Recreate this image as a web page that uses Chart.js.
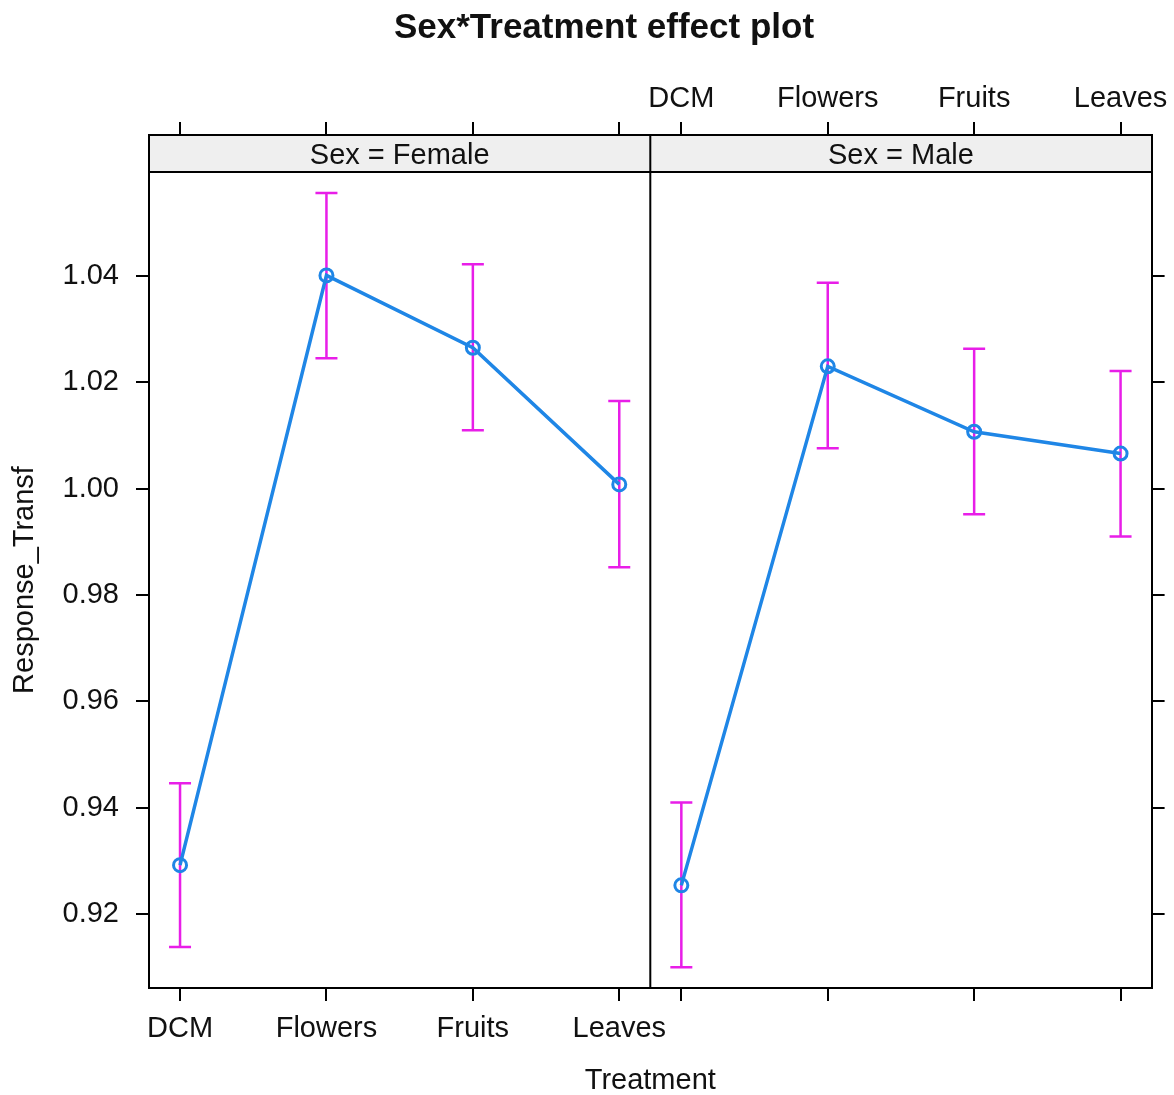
<!DOCTYPE html>
<html>
<head>
<meta charset="utf-8">
<title>Sex*Treatment effect plot</title>
<script src="https://cdn.jsdelivr.net/npm/chart.js@4.4.0/dist/chart.umd.min.js"></script>
<style>
  html, body { margin: 0; padding: 0; background: #fff; }
  #wrap { width: 1174px; height: 1095px; }
</style>
</head>
<body>
<div id="wrap"><canvas id="effectChart" width="1174" height="1095"></canvas></div>
<script>
// values
const treatments = ['DCM', 'Flowers', 'Fruits', 'Leaves'];
const sexes = ['Female', 'Male'];

const femaleFit   = [0.9292, 1.0401, 1.0265, 1.0008];
const femaleLower = [0.9138, 1.0245, 1.0110, 0.9852];
const femaleUpper = [0.9446, 1.0556, 1.0422, 1.0165];

const maleFit   = [0.9254, 1.0230, 1.0107, 1.0066];
const maleLower = [0.9100, 1.0076, 0.9952, 0.9910];
const maleUpper = [0.9410, 1.0387, 1.0263, 1.0221];

const yTicks = [0.92, 0.94, 0.96, 0.98, 1.00, 1.02, 1.04];

const FONT = '"Liberation Sans", Arial, sans-serif';
const LINE_COL = '#1f86e6';
const BAR_COL = '#e81ee8';
const TEXT_COL = '#111';

// each panel spans 3 category steps plus padding on both sides
const pad = 0.212;
const panelSpan = 3 + 2 * pad;
const stripPx = 37;

const panels = [
    { sex: sexes[0], fit: femaleFit, lower: femaleLower, upper: femaleUpper },
    { sex: sexes[1], fit: maleFit, lower: maleLower, upper: maleUpper }
];

const xPositions = [];
panels.forEach((p, k) => treatments.forEach((t, i) => xPositions.push(k * panelSpan + i)));

//-----------------------------------------
//  plugins: strips, error bars, titles
//-----------------------------------------
const stripBackground = {
    id: 'stripBackground',
    beforeDraw(chart) {
        const { ctx, chartArea: a } = chart;
        ctx.save();
        ctx.fillStyle = '#efefef';
        ctx.fillRect(a.left, a.top, a.right - a.left, stripPx);
        ctx.restore();
    }
};

const errorBars = {
    id: 'errorBars',
    beforeDatasetsDraw(chart) {
        const { ctx, scales: { x, y } } = chart;
        ctx.save();
        ctx.strokeStyle = BAR_COL;
        ctx.lineWidth = 2.5;
        panels.forEach((p, k) => p.fit.forEach((v, i) => {
            const px = x.getPixelForValue(k * panelSpan + i);
            const lo = y.getPixelForValue(p.lower[i]);
            const hi = y.getPixelForValue(p.upper[i]);
            ctx.beginPath();
            ctx.moveTo(px, lo); ctx.lineTo(px, hi);
            ctx.moveTo(px - 11, lo); ctx.lineTo(px + 11, lo);
            ctx.moveTo(px - 11, hi); ctx.lineTo(px + 11, hi);
            ctx.stroke();
        }));
        ctx.restore();
    }
};

const panelFrame = {
    id: 'panelFrame',
    afterDraw(chart) {
        const { ctx, chartArea: a, scales: { x } } = chart;
        const divider = x.getPixelForValue(panelSpan - pad);
        ctx.save();
        ctx.strokeStyle = '#000';
        ctx.lineWidth = 2;
        ctx.beginPath();
        ctx.moveTo(divider, a.top); ctx.lineTo(divider, a.bottom);
        ctx.moveTo(a.left, a.top + stripPx); ctx.lineTo(a.right, a.top + stripPx);
        ctx.stroke();

        // strip labels
        ctx.fillStyle = TEXT_COL;
        ctx.font = '29px ' + FONT;
        ctx.textAlign = 'center';
        ctx.textBaseline = 'middle';
        const edges = [a.left, divider, a.right];
        panels.forEach((p, k) => {
            ctx.fillText('Sex = ' + p.sex, (edges[k] + edges[k + 1]) / 2, a.top + stripPx / 2 + 2);
        });

        // main title
        ctx.font = 'bold 35px ' + FONT;
        ctx.fillText('Sex*Treatment effect plot', 604, 28);

        // y axis title, centred on the panels (below the strips)
        ctx.font = '29px ' + FONT;
        ctx.translate(25, (a.top + stripPx + a.bottom) / 2);
        ctx.rotate(-Math.PI / 2);
        ctx.fillText('Response_Transf', 0, 0);
        ctx.restore();
    }
};

//-----------------------------------------
//  chart
//-----------------------------------------
const tickFont = { family: FONT, size: 29 };
const axisGrid = { drawOnChartArea: false, drawTicks: true, tickLength: 13, color: '#000', lineWidth: 2 };
const axisBorder = { display: true, color: '#000', width: 2 };

const datasets = panels.map((p, k) => ({
    label: 'Sex = ' + p.sex,
    data: p.fit.map((v, i) => ({ x: k * panelSpan + i, y: v })),
    borderColor: LINE_COL,
    borderWidth: 3.5,
    pointStyle: 'circle',
    pointRadius: 6.5,
    pointBorderWidth: 3,
    pointBorderColor: LINE_COL,
    pointBackgroundColor: 'rgba(0,0,0,0)',
    tension: 0,
    xAxisID: 'x',
    yAxisID: 'y'
}));

const ctx = document.getElementById('effectChart').getContext('2d');

new Chart(ctx, {
    type: 'line',
    data: { datasets },
    plugins: [stripBackground, errorBars, panelFrame],
    options: {
        responsive: false,
        animation: false,
        devicePixelRatio: 1,
        layout: { padding: 0 },
        plugins: {
            legend: { display: false },
            tooltip: { enabled: false },
            title: { display: false }
        },
        scales: {
            x: {
                type: 'linear',
                position: 'bottom',
                min: -pad,
                max: -pad + 2 * panelSpan,
                afterBuildTicks: s => { s.ticks = xPositions.map(v => ({ value: v })); },
                afterFit: s => { s.height = 107; },
                ticks: {
                    callback: (v, i) => i < 4 ? treatments[i] : '',
                    font: tickFont, color: TEXT_COL, padding: 11,
                    maxRotation: 0, autoSkip: false
                },
                grid: axisGrid,
                border: axisBorder,
                title: { display: true, text: 'Treatment', font: tickFont, color: TEXT_COL, padding: { top: 0, bottom: -3 } }
            },
            x2: {
                type: 'linear',
                position: 'top',
                min: -pad,
                max: -pad + 2 * panelSpan,
                afterBuildTicks: s => { s.ticks = xPositions.map(v => ({ value: v })); },
                afterFit: s => { s.height = 135; },
                ticks: {
                    callback: (v, i) => i >= 4 ? treatments[i - 4] : '',
                    font: tickFont, color: TEXT_COL, padding: 6,
                    maxRotation: 0, autoSkip: false
                },
                grid: axisGrid,
                border: axisBorder
            },
            y: {
                type: 'linear',
                position: 'left',
                min: 0.9061,
                max: 1.0665,
                afterBuildTicks: s => { s.ticks = yTicks.map(v => ({ value: v })); },
                afterFit: s => { s.width = 149; },
                ticks: {
                    callback: v => v.toFixed(2),
                    font: tickFont, color: TEXT_COL, padding: 17
                },
                grid: axisGrid,
                border: axisBorder
            },
            y2: {
                type: 'linear',
                position: 'right',
                min: 0.9061,
                max: 1.0665,
                afterBuildTicks: s => { s.ticks = yTicks.map(v => ({ value: v })); },
                afterFit: s => { s.width = 22; },
                ticks: { display: false },
                grid: axisGrid,
                border: axisBorder
            }
        }
    }
});
</script>
</body>
</html>
